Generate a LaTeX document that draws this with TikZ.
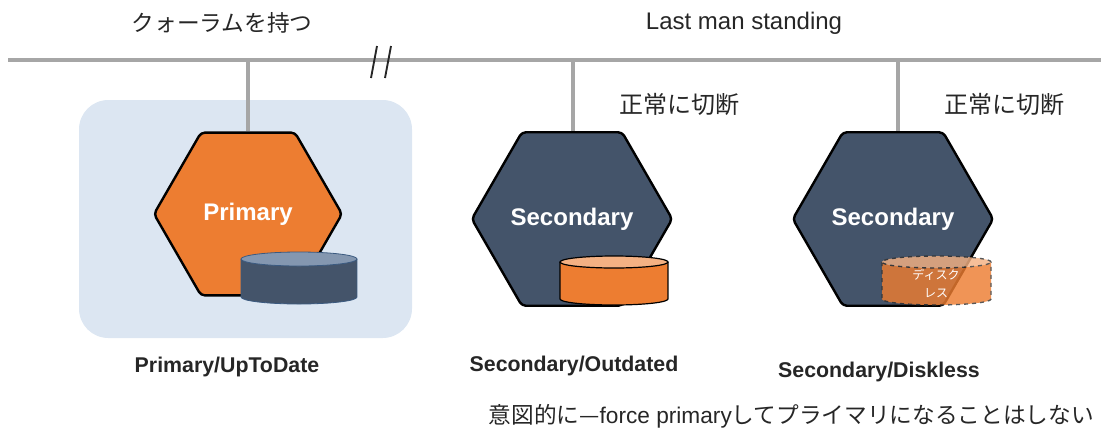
\documentclass[tikz,border=0pt]{standalone}
\usepackage{fontspec}
\setmainfont{Liberation Sans}
\newfontfamily\jp{Noto Sans CJK JP}
\usetikzlibrary{shapes.geometric}
\definecolor{orng}{HTML}{ED7D31}
\definecolor{navy}{HTML}{44546A}
\definecolor{busgray}{HTML}{A6A6A6}
\definecolor{bgblue}{HTML}{DCE6F2}
\definecolor{cyltop}{HTML}{8497B0}
\definecolor{cylline}{HTML}{3B5A80}
\definecolor{orngtop}{HTML}{F4B183}
\definecolor{txt}{HTML}{262626}
\begin{document}
\begin{tikzpicture}[x=0.75pt,y=-0.75pt,
  hexa/.style={regular polygon, regular polygon sides=6, minimum size=141pt, inner sep=0pt,
    draw=black, line width=1.8pt, rounded corners=3pt, text=white,
    font=\fontsize{18}{20}\selectfont\bfseries},
  busline/.style={draw=busgray, line width=3.4pt},
  drop/.style={draw=busgray, line width=3pt},
  slash/.style={draw=black!85, line width=1.4pt},
  lbl/.style={font=\fontsize{16}{18}\selectfont\bfseries, text=txt},
  jtxt/.style={font=\jp\fontsize{17}{20}\selectfont, text=txt},
  ltxt/.style={font=\fontsize{18}{20}\selectfont, text=txt},
  smallw/.style={font=\jp\fontsize{9}{10}\selectfont, text=white}]
\useasboundingbox (0,0) rectangle (1101,444);

% background highlight
\fill[bgblue, rounded corners=22pt] (79,100) rectangle (412,338);

% bus
\coordinate (busL) at (8,60);
\coordinate (busR) at (1101,60);
\draw[busline] (busL) -- (busR);
\coordinate (s1a) at (377,46); \coordinate (s1b) at (371,78);
\coordinate (s2a) at (391,46); \coordinate (s2b) at (385,78);
\draw[slash] (s1a) -- (s1b);
\draw[slash] (s2a) -- (s2b);

% top texts
\node[jtxt, font=\jp\fontsize{17}{20}\selectfont] (quorum) at (222,23) {クォーラムを持つ};
\node[ltxt] (lms) at (744,23) {Last man standing};
\node[jtxt, font=\jp\fontsize{18}{20}\selectfont] (disc1) at (679,104) {正常に切断};
\node[jtxt, font=\jp\fontsize{18}{20}\selectfont] (disc2) at (1004,104) {正常に切断};

% hexagons
\node[hexa, fill=orng] (h1) at (248,214) {Primary};
\node[hexa, fill=navy] (h2) at (572,219) {Secondary};
\node[hexa, fill=navy] (h3) at (893,219) {Secondary};

% drops
\coordinate (b1) at (248,60);
\coordinate (b2) at (573,60);
\coordinate (b3) at (898,60);
\draw[drop] (b1) -- (b1 |- h1.north);
\draw[drop] (b2) -- (b2 |- h2.north);
\draw[drop] (b3) -- (b3 |- h3.north);

% cylinder 1 (dark)
\fill[navy] (299,297) ellipse [x radius=43.5pt, y radius=5.25pt];
\fill[navy] (241,259) rectangle (357,297);
\draw[cylline, line width=0.6pt] (241,259) -- (241,297)
  arc[start angle=180, end angle=360, x radius=43.5pt, y radius=5.25pt] -- (357,259);
\filldraw[fill=cyltop, draw=cylline, line width=0.6pt] (299,259) ellipse [x radius=43.5pt, y radius=5.25pt];

% cylinder 2 (orange)
\fill[orng] (614,299) ellipse [x radius=40.5pt, y radius=4.5pt];
\fill[orng] (560,262) rectangle (668,299);
\draw[black, line width=0.9pt] (560,262) -- (560,299)
  arc[start angle=180, end angle=360, x radius=40.5pt, y radius=4.5pt] -- (668,262);
\filldraw[fill=orngtop, draw=black, line width=0.9pt] (614,262) ellipse [x radius=40.5pt, y radius=4.5pt];

% cylinder 3 (diskless, dashed, translucent)
\begin{scope}[transparency group, opacity=0.82]
\fill[orng] (936.5,299) ellipse [x radius=40.9pt, y radius=4.5pt];
\fill[orng] (882,262) rectangle (991,299);
\draw[black!80, line width=1pt, dashed] (882,262) -- (882,299)
  arc[start angle=180, end angle=360, x radius=40.9pt, y radius=4.5pt] -- (991,262);
\filldraw[fill=orngtop, draw=black!80, line width=1pt, dashed] (936.5,262) ellipse [x radius=40.9pt, y radius=4.5pt];
\end{scope}
\node[smallw] (dl1) at (936,275) {ディスク};
\node[smallw] (dl2) at (936,293) {レス};

% labels
\node[lbl] (l1) at (227,367) {Primary/UpToDate};
\node[lbl] (l2) at (574,366) {Secondary/Outdated};
\node[lbl] (l3) at (879,372) {Secondary/Diskless};
\node[jtxt, anchor=west, font=\jp\fontsize{17}{20}\selectfont] (note) at (484,416) {意図的に—{\fontspec{Liberation Sans}force primary}してプライマリになることはしない};
\end{tikzpicture}
\end{document}
